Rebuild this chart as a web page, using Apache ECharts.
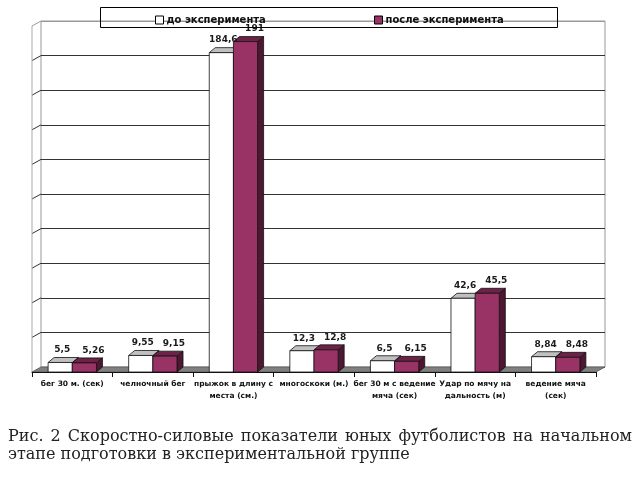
<!DOCTYPE html>
<html>
<head>
<meta charset="utf-8">
<script src="https://cdn.jsdelivr.net/npm/echarts@6/dist/echarts.min.js"></script>
<style>
  html, body { margin: 0; padding: 0; background: #fff; }
  #main { width: 640px; height: 480px; }
</style>
</head>
<body>
<div id="main"></div>
<script>
// данные с рисунка
const categories = [
  'бег 30 м. (сек)',
  'челночный бег',
  'прыжок в длину с\nместа (см.)',
  'многоскоки (м.)',
  'бег 30 м с ведение\nмяча (сек)',
  'Удар по мячу на\nдальность (м)',
  'ведение мяча\n(сек)'
]
const seriesNames = ['до эксперимента', 'после эксперимента']
const before = [5.5, 9.55, 184.6, 12.3, 6.5, 42.6, 8.84]
const after = [5.26, 9.15, 191, 12.8, 6.15, 45.5, 8.48]
const yMax = 200
const yStep = 20
const caption1 = 'Рис. 2 Скоростно-силовые показатели юных футболистов на начальном'
const caption2 = 'этапе подготовки в экспериментальной группе'

// смещение "глубины" для псевдо-3D
const DX = 9, DY = -5      // стенки
const BDX = 6, BDY = -5    // столбики
const labelShift = [2, 9]  // подписи значений сдвинуты вправо

const fmt = v => String(v).replace('.', ',')

const palette = [
  { front: '#ffffff', top: '#c0c0c0', side: '#9a9a9a' },
  { front: '#993366', top: '#6e2248', side: '#4e1832' }
]

const barRender = (side) => (params, api) => {
  const idx = api.value(0)
  const val = api.value(1)
  const band = api.size([1, 0])[0]
  const w = band * 0.3
  const base = api.coord([idx, 0])
  const top = api.coord([idx, val])
  const x0 = side === 0 ? base[0] - w : base[0]
  const x1 = x0 + w
  const y0 = base[1], y1 = top[1]
  const c = palette[side]
  const st = (fill) => ({ fill: fill, stroke: '#111', lineWidth: 0.8 })
  return {
    type: 'group',
    children: [
      { type: 'polygon', shape: { points: [[x1, y0], [x1 + BDX, y0 + BDY], [x1 + BDX, y1 + BDY], [x1, y1]] }, style: st(c.side) },
      { type: 'polygon', shape: { points: [[x0, y1], [x1, y1], [x1 + BDX, y1 + BDY], [x0 + BDX, y1 + BDY]] }, style: st(c.top) },
      { type: 'rect', shape: { x: x0, y: y1, width: w, height: y0 - y1 }, style: st(c.front) },
      {
        type: 'text', z2: 50,
        style: {
          text: fmt(val), x: (x0 + x1) / 2 + labelShift[side], y: y1 + BDY - 3,
          align: 'center', verticalAlign: 'bottom',
          font: 'bold 9px "DejaVu Sans"', fill: '#1a1a1a'
        }
      }
    ]
  }
}

// пол и левая стенка
const wallRender = (params, api) => {
  const band = api.size([1, 0])[0]
  const xl = api.coord([0, 0])[0] - band / 2
  const xr = xl + band * categories.length
  const y0 = api.coord([0, 0])[1]
  const yt = api.coord([0, yMax])[1]
  const children = []
  for (let v = yStep; v <= yMax; v += yStep) {
    const y = api.coord([0, v])[1]
    children.push({
      type: 'line',
      shape: { x1: xl, y1: y, x2: xl + DX, y2: y + DY },
      style: { stroke: v === yMax ? '#999' : '#333', lineWidth: 1 }
    })
  }
  children.push({ type: 'line', shape: { x1: xl, y1: y0, x2: xl, y2: yt }, style: { stroke: '#aaa', lineWidth: 1 } })
  children.push({
    type: 'polygon',
    shape: { points: [[xl, y0], [xr, y0], [xr + DX, y0 + DY], [xl + DX, y0 + DY]] },
    style: { fill: '#808080', stroke: '#555', lineWidth: 0.8 }
  })
  return { type: 'group', children }
}

const splitColors = []
for (let v = 0; v <= yMax; v += yStep) splitColors.push(v === yMax ? '#999' : '#333')

// подпись с выравниванием по ширине
const captionFont = '16px "DejaVu Serif"'
const ctx = document.createElement('canvas').getContext('2d')
ctx.font = captionFont
const captionEls = []
;(function () {
  const words = caption1.split(' ')
  const widths = words.map(w => ctx.measureText(w).width)
  const total = widths.reduce((a, b) => a + b, 0)
  const gap = Math.max(3, (624 - total) / (words.length - 1))
  let x = 8
  words.forEach((w, i) => {
    captionEls.push({ type: 'text', x: x, y: 437, style: { text: w, font: captionFont, fill: '#222', verticalAlign: 'middle' } })
    x += widths[i] + gap
  })
  captionEls.push({ type: 'text', x: 8, y: 455, style: { text: caption2, font: captionFont, fill: '#222', verticalAlign: 'middle' } })
})()

let myChart = echarts.init(document.getElementById('main'))
myChart.setOption({
  animation: false,
  backgroundColor: '#fff',
  legend: [
    {
      data: [{ name: seriesNames[0], itemStyle: { color: '#fff', borderColor: '#000', borderWidth: 1 } }],
      left: 150, top: 10, itemWidth: 8, itemHeight: 8, icon: 'rect', selectedMode: false, itemGap: 4,
      textStyle: { fontFamily: 'DejaVu Sans', fontWeight: 'bold', fontSize: 10, color: '#111', padding: [0, 0, 0, -2] }
    },
    {
      data: [{ name: seriesNames[1], itemStyle: { color: '#993366', borderColor: '#000', borderWidth: 1 } }],
      left: 369, top: 10, itemWidth: 8, itemHeight: 8, icon: 'rect', selectedMode: false,
      textStyle: { fontFamily: 'DejaVu Sans', fontWeight: 'bold', fontSize: 10, color: '#111', padding: [0, 0, 0, -2] }
    }
  ],
  graphic: [
    { type: 'rect', left: 98, top: 5, z: 100, shape: { width: 457, height: 20 }, style: { fill: 'none', stroke: '#000', lineWidth: 1 } }
  ].concat(captionEls),
  grid: [
    { left: 32, right: 44, top: 26, bottom: 108 },
    { left: 41, right: 35, top: 21, bottom: 113, show: true, borderColor: '#999', borderWidth: 1, backgroundColor: 'transparent' }
  ],
  xAxis: [
    {
      type: 'category', gridIndex: 0, data: categories,
      axisLine: { lineStyle: { color: '#111', width: 1 } },
      axisTick: { show: true, length: 5, lineStyle: { color: '#111' } },
      axisLabel: {
        interval: 0, margin: 6, lineHeight: 12,
        fontFamily: 'DejaVu Sans', fontWeight: 'bold', fontSize: 7.5, color: '#111'
      },
      z: 5
    },
    { type: 'value', gridIndex: 1, min: 0, max: 1, show: false }
  ],
  yAxis: [
    { type: 'value', gridIndex: 0, min: 0, max: yMax, interval: yStep, show: false },
    {
      type: 'value', gridIndex: 1, min: 0, max: yMax, interval: yStep,
      axisLine: { show: false }, axisTick: { show: false }, axisLabel: { show: false },
      splitLine: { show: true, lineStyle: { color: splitColors, width: 1 } }
    }
  ],
  series: [
    {
      type: 'custom', name: 'walls', xAxisIndex: 0, yAxisIndex: 0, z: 1, silent: true,
      renderItem: wallRender, data: [[0, 0]], encode: { x: 0, y: 1 }
    },
    {
      type: 'custom', name: seriesNames[0], xAxisIndex: 0, yAxisIndex: 0, z: 3,
      itemStyle: { color: '#fff', borderColor: '#000', borderWidth: 1 },
      renderItem: barRender(0), data: before.map((v, i) => [i, v]), encode: { x: 0, y: 1 }
    },
    {
      type: 'custom', name: seriesNames[1], xAxisIndex: 0, yAxisIndex: 0, z: 3,
      itemStyle: { color: '#993366', borderColor: '#000', borderWidth: 1 },
      renderItem: barRender(1), data: after.map((v, i) => [i, v]), encode: { x: 0, y: 1 }
    }
  ]
})
</script>
</body>
</html>
